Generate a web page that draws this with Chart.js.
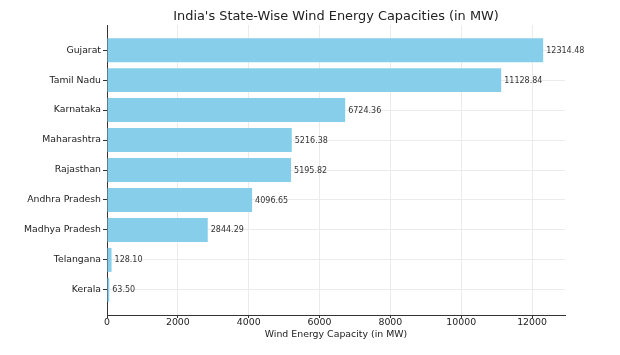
<!DOCTYPE html>
<html>
<head>
<meta charset="utf-8">
<script src="https://cdn.jsdelivr.net/npm/chart.js@4/dist/chart.umd.min.js"></script>
<style>
html,body{margin:0;padding:0;background:#fff;}
#wrap{width:620px;height:355px;}
</style>
</head>
<body>
<div id="wrap"><canvas id="c" width="620" height="355"></canvas></div>
<script>
const states = ["Gujarat","Tamil Nadu","Karnataka","Maharashtra","Rajasthan","Andhra Pradesh","Madhya Pradesh","Telangana","Kerala"];
const capacities = [12314.48,11128.84,6724.36,5216.38,5195.82,4096.65,2844.29,128.10,63.50];
const xTicks = [0,2000,4000,6000,8000,10000,12000];
const titleText = "India's State-Wise Wind Energy Capacities (in MW)";
const xTitle = "Wind Energy Capacity (in MW)";

const FONT = "'DejaVu Sans', sans-serif";
const points = states.map((s,i)=>({x:capacities[i], y:i}));

const valueLabels = {
  id:'valueLabels',
  afterDatasetsDraw(chart){
    const ctx = chart.ctx;
    const meta = chart.getDatasetMeta(0);
    ctx.save();
    ctx.font = "8px " + FONT;
    ctx.fillStyle = "#333";
    ctx.textAlign = "left";
    ctx.textBaseline = "middle";
    meta.data.forEach((bar,i)=>{
      ctx.fillText(capacities[i].toFixed(2), bar.x + 3, bar.y + 0.5);
    });
    ctx.restore();
  }
};
const titlePlugin = {
  id:'titleDraw',
  afterDraw(chart){
    const ctx = chart.ctx, a = chart.chartArea;
    ctx.save();
    ctx.font = "12.9px " + FONT;
    ctx.fillStyle = "#222";
    ctx.textAlign = "center";
    ctx.textBaseline = "middle";
    ctx.fillText(titleText, (a.left + a.right)/2, 16.5);
    ctx.restore();
  }
};

new Chart(document.getElementById('c'), {
  type:'bar',
  data:{ datasets:[{ data:points, backgroundColor:'#87CEEB', borderWidth:0, barPercentage:1, categoryPercentage:0.8 }]},
  options:{
    indexAxis:'y',
    responsive:false,
    animation:false,
    layout:{ padding:{ top:25, right:55, left:0, bottom:15 } },
    plugins:{ legend:{display:false}, tooltip:{enabled:false}, title:{display:false} },
    scales:{
      x:{
        type:'linear', bounds:'data', min:0, max:12930,
        afterBuildTicks(s){ s.ticks = xTicks.map(v=>({value:v})); },
        afterFit(s){ s.height = 25; },
        grid:{ color:'#ebebeb', lineWidth:1, tickLength:3, tickColor:'#333', drawOnChartArea:true },
        border:{ display:true, color:'#333', width:1 },
        ticks:{ font:{family:FONT, size:9.4}, color:'#222', padding:-1, maxRotation:0, callback:(v)=>String(v) },
        title:{ display:true, text:xTitle, font:{family:FONT, size:9.4}, color:'#222', padding:{top:0,bottom:0} }
      },
      y:{
        type:'linear', bounds:'data', reverse:true, min:-0.84, max:8.84, offset:false,
        afterBuildTicks(s){ s.ticks = states.map((_,i)=>({value:i})); },
        afterFit(s){ s.width = 107; },
        grid:{ offset:false, color:'#ebebeb', lineWidth:1, tickLength:4, tickColor:'#333' },
        border:{ display:true, color:'#333', width:1 },
        ticks:{ font:{family:FONT, size:9.3}, color:'#222', padding:2, callback:(v)=>states[v] ?? '' }
      }
    }
  },
  plugins:[valueLabels, titlePlugin]
});
</script>
</body>
</html>
